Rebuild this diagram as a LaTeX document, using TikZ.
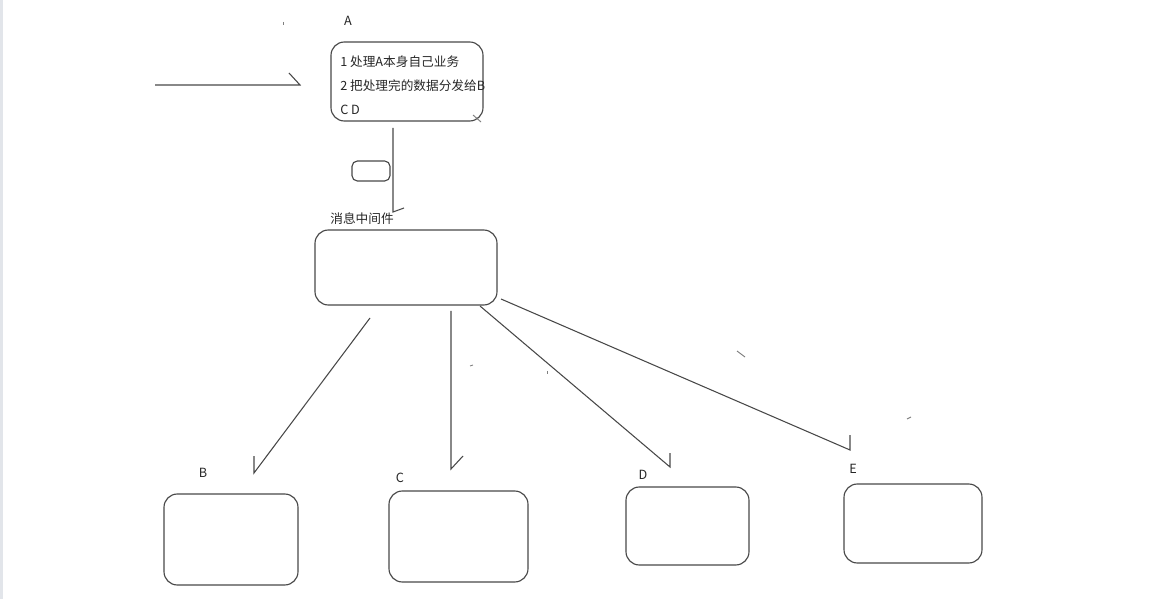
\documentclass[tikz,border=0pt]{standalone}
\usepackage{fontspec}
\newfontfamily\cjk{Noto Sans CJK SC}
\definecolor{ink}{RGB}{72,72,72}
\definecolor{strip}{RGB}{226,229,234}
\tikzstyle{box}=[draw=ink, line width=.85pt, rounded corners=10pt, inner sep=0pt]
\tikzset{link/.style={draw=ink, line width=.8pt}}
\tikzset{speck/.style={draw=ink!70, line width=.7pt}}
\tikzstyle{tag}=[font=\cjk\fontsize{9.5}{11}\selectfont, text=black!85, inner sep=0pt]

\begin{document}
\begin{tikzpicture}[x=.75pt,y=-.75pt]
  \useasboundingbox (0,0) rectangle (1163,616);
  \fill[strip] (0,0) rectangle (3,599);

  %% boxes
  \draw (407,81.5) node[box,minimum width=114pt,minimum height=59.25pt] (A) {};
  \draw (340,85) node[tag,anchor=west,align=left,font=\cjk\fontsize{9.5}{18}\selectfont] (Atext)
    {1 处理A本身自己业务\\2 把处理完的数据分发给B\\C D};
  \draw (371,171) node[box,rounded corners=4pt,minimum width=28.5pt,minimum height=15pt] (Q) {};
  \draw (406,267.5) node[box,minimum width=136.5pt,minimum height=56.25pt] (M) {};
  \draw (231,539.5) node[box,minimum width=100.5pt,minimum height=68.25pt] (B) {};
  \draw (458.5,536.5) node[box,minimum width=104.25pt,minimum height=68.25pt] (C) {};
  \draw (687.5,526) node[box,minimum width=92.25pt,minimum height=58.5pt] (D) {};
  \draw (913,523.5) node[box,minimum width=103.5pt,minimum height=59.25pt] (E) {};

  %% labels
  \draw (348,21) node[tag] (lA) {A};
  \draw (362,219) node[tag] (lM) {消息中间件};
  \draw (203,473) node[tag] (lB) {B};
  \draw (400,478) node[tag] (lC) {C};
  \draw (643,475) node[tag] (lD) {D};
  \draw (853,469) node[tag] (lE) {E};

  %% connector ends
  \coordinate (in0) at (155,85);
  \coordinate (in1) at (300,85);
  \coordinate (a0) at (393,128);
  \coordinate (a1) at (393,212);
  \coordinate (b0) at (370,318);
  \coordinate (b1) at (254,473);
  \coordinate (c0) at (451,311);
  \coordinate (c1) at (451,469);
  \coordinate (d0) at (480,306);
  \coordinate (d1) at (670,467);
  \coordinate (e0) at (501,299);
  \coordinate (e1) at (850,450);

  \draw[link] (in0) -- (in1) -- ++(-11,-12);
  \draw[link] (a0) -- (a1) -- ++(11,-4);
  \draw[link] (b0) -- (b1) -- ++(0,-17);
  \draw[link] (c0) -- (c1) -- ++(12,-13);
  \draw[link] (d0) -- (d1) -- ++(0,-14);
  \draw[link] (e0) -- (e1) -- ++(0,-15);

  %% stray marks
  \draw[speck] (283,22) -- (283,25);
  \draw[speck] (473,115) -- (481,122);
  \draw[speck] (737,351) -- (745,357);
  \draw[speck] (470,366) -- (473,365);
  \draw[speck] (547,371) -- (547,374);
  \draw[speck] (907,419) -- (911,417);
\end{tikzpicture}
\end{document}
